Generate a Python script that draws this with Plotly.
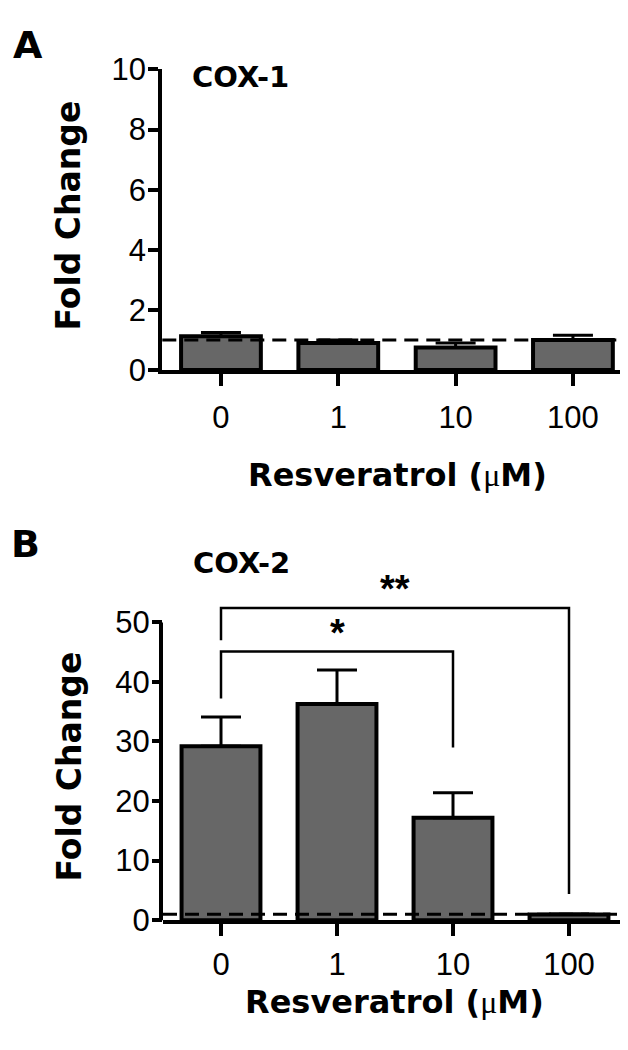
import plotly.graph_objects as go

# ---------------- data ----------------
categories = ["0", "1", "10", "100"]
cox1_mean = [1.13, 0.90, 0.75, 1.00]
cox1_sem = [0.12, 0.10, 0.15, 0.16]
cox2_mean = [29.2, 36.3, 17.2, 0.95]
cox2_sem = [4.9, 5.7, 4.2, 0.10]
baseline_fold = 1.0
yticks_a = [0, 2, 4, 6, 8, 10]
yticks_b = [0, 10, 20, 30, 40, 50]
# significance brackets for COX-2: (left index, right index)
sig_pairs = [(0, 2), (0, 3)]
sig_top = [45.1, 52.4]
sig_left_end = [37.2, 47.0]
sig_right_end = [29.0, 4.4]
sig_labels = ["*", "**"]

# ---------------- layout helpers ----------------
W, H = 628, 1050
BAR_FILL = "#676767"
BOLD = "DejaVu Sans"
REG = "Liberation Sans"
xpos = list(range(len(categories)))


def px_x(p):
    return p / W


def px_y(p):
    return (H - p) / H


# panel A geometry (pixels)
a_left, a_right = 154.3, 623.6
a_zero, a_top = 357, 46
# panel B geometry (pixels)
b_left, b_right = 155, 619
b_zero, b_fifty = 926, 618
b_ymax = 55
b_top = b_zero - b_ymax * (b_zero - b_fifty) / 50

fig = go.Figure()

fig.add_trace(go.Bar(
    x=xpos, y=cox1_mean, width=0.68, xaxis="x", yaxis="y",
    marker=dict(color=BAR_FILL, line=dict(color="black", width=4)),
    error_y=dict(type="data", array=cox1_sem, arrayminus=[0] * 4, symmetric=False,
                 thickness=3, width=20, color="black"),
    hoverinfo="skip", showlegend=False))

fig.add_trace(go.Bar(
    x=xpos, y=cox2_mean, width=0.68, xaxis="x2", yaxis="y2",
    marker=dict(color=BAR_FILL, line=dict(color="black", width=4)),
    error_y=dict(type="data", array=cox2_sem, arrayminus=[0] * 4, symmetric=False,
                 thickness=3, width=20, color="black"),
    hoverinfo="skip", showlegend=False))

for (a, b), top, le, re_ in zip(sig_pairs, sig_top, sig_left_end, sig_right_end):
    fig.add_trace(go.Scatter(
        x=[a, a, b, b], y=[le, top, top, re_], mode="lines",
        line=dict(color="black", width=2.5), xaxis="x2", yaxis="y2",
        hoverinfo="skip", showlegend=False))

axis_common = dict(showgrid=False, zeroline=False, linecolor="black", linewidth=4,
                   ticks="outside", tickwidth=4, tickcolor="black",
                   tickfont=dict(family=REG, size=31, color="black"))

fig.update_layout(
    width=W, height=H, margin=dict(l=0, r=0, t=0, b=0),
    paper_bgcolor="white", plot_bgcolor="white",
    xaxis=dict(domain=[px_x(a_left), px_x(a_right)], range=[-0.5, 3.5], anchor="y",
               tickvals=xpos, ticktext=categories, showline=True, ticklen=12,
               ticklabelstandoff=5, **axis_common),
    yaxis=dict(domain=[px_y(a_zero), px_y(a_top)], range=[0, 10], anchor="x",
               tickvals=yticks_a, showline=True, ticklen=10, ticklabelstandoff=-4,
               **axis_common),
    xaxis2=dict(domain=[px_x(b_left), px_x(b_right)], range=[-0.5, 3.5], anchor="y2",
                tickvals=xpos, ticktext=categories, showline=True, ticklen=12,
                ticklabelstandoff=2, **axis_common),
    yaxis2=dict(domain=[px_y(b_zero), px_y(b_top)], range=[0, b_ymax], anchor="x2",
                tickvals=yticks_b, showline=False, ticklen=10, ticklabelstandoff=-4,
                **axis_common),
)

# y-axis line of panel B (only up to the last tick, brackets extend above)
fig.add_shape(type="line", xref="paper", yref="y2",
              x0=px_x(b_left) - 2 / W, x1=px_x(b_left) - 2 / W,
              y0=-0.35, y1=yticks_b[-1], line=dict(color="black", width=4))

# dashed baseline (fold change = 1)
fig.add_shape(type="line", xref="paper", yref="y", x0=px_x(a_left), x1=1.0,
              y0=baseline_fold, y1=baseline_fold, layer="above",
              line=dict(color="black", width=3, dash="14px,8px"))
fig.add_shape(type="line", xref="paper", yref="y2", x0=px_x(b_left), x1=px_x(613),
              y0=baseline_fold, y1=baseline_fold, layer="above",
              line=dict(color="black", width=3, dash="14px,8px"))

# significance labels
for (a, b), top, lab in zip(sig_pairs, sig_top, sig_labels):
    fig.add_annotation(x=(a + b) / 2, y=top,
                       xref="x2", yref="y2", text=lab, showarrow=False,
                       yanchor="bottom", yshift=-4,
                       font=dict(family=REG, size=38, color="black", weight="bold"))


def bold_text(txt, x, y, size, angle=0):
    fig.add_annotation(x=px_x(x), y=px_y(y), xref="paper", yref="paper", text=txt,
                       showarrow=False, textangle=angle, xanchor="center",
                       yanchor="middle",
                       font=dict(family=BOLD, size=size, color="black", weight="bold"))


mu_title = ("Resveratrol (<span style=\"font-family:'Liberation Serif';"
            "font-weight:normal\">μ</span>M)")

bold_text("A", 20, 21, 38)
bold_text("COX-1", 233, 54, 29)
bold_text("Fold Change", 60, 197, 33, -90)
bold_text(mu_title, 389, 465, 32)

bold_text("B", 17, 537, 38)
bold_text("COX-2", 234, 557, 29)
bold_text("Fold Change", 61, 767, 33, -90)
bold_text(mu_title, 386, 1011, 32)

fig.write_html("out.html")
